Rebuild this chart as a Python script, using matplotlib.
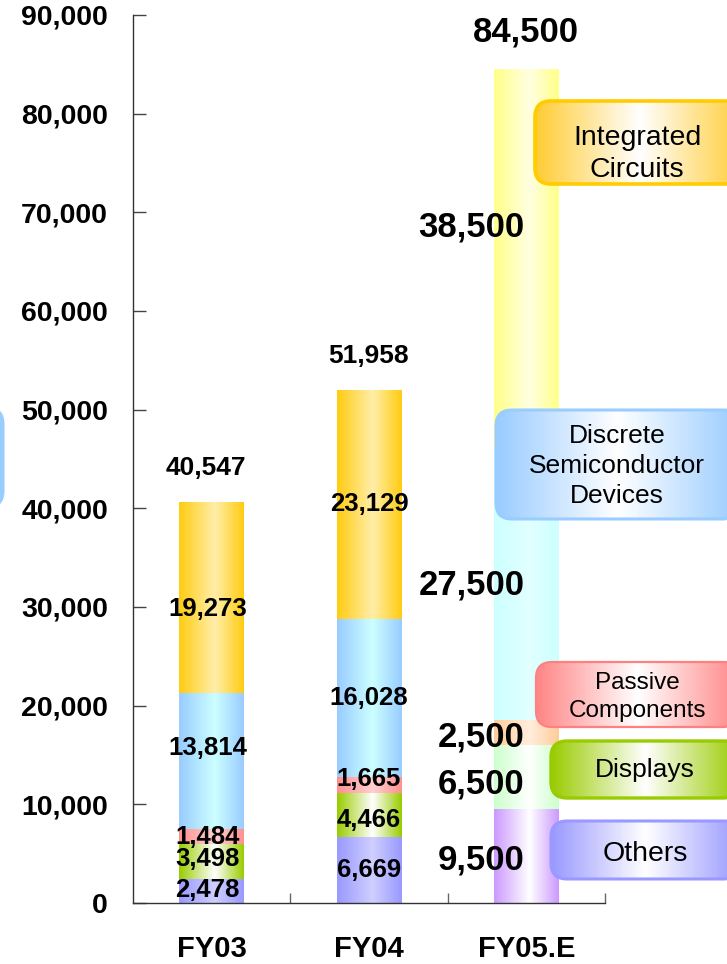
import numpy as np
import matplotlib
matplotlib.use("Agg")
import matplotlib.pyplot as plt
from matplotlib.colors import LinearSegmentedColormap
from matplotlib.patches import FancyBboxPatch

plt.rcParams['font.family'] = ['Liberation Sans', 'DejaVu Sans']

# ---- data -------------------------------------------------------------
years = ["FY03", "FY04", "FY05.E"]
segments = ["Others", "Displays", "Passive Components",
            "Discrete Semiconductor Devices", "Integrated Circuits"]
others = [2478, 6669, 9500]
displays = [3498, 4466, 6500]
passive = [1484, 1665, 2500]
discrete = [13814, 16028, 27500]
integrated = [19273, 23129, 38500]
totals = [40547, 51958, 84500]
y_ticks = [0, 10000, 20000, 30000, 40000, 50000, 60000, 70000, 80000, 90000]

series = [others, displays, passive, discrete, integrated]

# ---- styling ----------------------------------------------------------
# (edge colour, centre colour) for actual years and for the estimate year
palette = {
    "Others": (("#9999FF", "#CFCFFF"), ("#CC99FF", "#FFFFFF")),
    "Displays": (("#99CC00", "#FFFFFF"), ("#CCFFCC", "#FFFFFF")),
    "Passive Components": (("#FF8F8F", "#FFD0D0"), ("#FFCC99", "#FFEEDD")),
    "Discrete Semiconductor Devices": (("#99CCFF", "#CCFFFF"), ("#CCFFFF", "#E2FFFF")),
    "Integrated Circuits": (("#FFCC11", "#FFEEAA"), ("#FFFF88", "#FFFFE2")),
}

# small vertical nudges for a few value labels (data units)
nudge = {(0, 0): 100, (0, 1): 200, (0, 3): 1300, (0, 4): -1100,
         (1, 1): -500, (1, 2): 600,
         (2, 0): -400, (2, 1): -700, (2, 2): -400, (2, 4): 3300}


def hgrad(edge, mid, peak=0.55):
    return LinearSegmentedColormap.from_list("g", [(0, edge), (peak, mid), (1, edge)])


GRAD = np.linspace(0, 1, 256)[None, :]

fig = plt.figure(figsize=(7.27, 9.64), dpi=100)
ax = fig.add_axes([0.1829, 0.0633, 0.6493, 0.9212])

x = np.arange(len(years))
width = 0.41
bottom = np.zeros(len(years))
for s_idx, (name, vals) in enumerate(zip(segments, series)):
    bars = ax.bar(x, vals, width, bottom=bottom, facecolor="none",
                  edgecolor="none", zorder=2)
    for i, b in enumerate(bars):
        edge, mid = palette[name][1 if i == 2 else 0]
        ax.imshow(GRAD, cmap=hgrad(edge, mid), aspect="auto", origin="lower",
                  interpolation="bicubic", zorder=2,
                  extent=(b.get_x(), b.get_x() + b.get_width(),
                          b.get_y(), b.get_y() + b.get_height()))
        ymid = b.get_y() + b.get_height() / 2 + nudge.get((i, s_idx), 0)
        if i == 2:
            ax.text(1.99, ymid, f"{vals[i]:,}", ha="right", va="center",
                    fontsize=25, fontweight="bold", zorder=4)
        else:
            xoff = -0.025 if i == 0 else 0.0
            ax.text(x[i] + xoff, ymid, f"{vals[i]:,}", ha="center", va="center",
                    fontsize=18.5, fontweight="bold", zorder=4)
    bottom += np.array(vals)

for i, t in enumerate(totals):
    big = i == 2
    ax.annotate(f"{t:,}", (x[i], bottom[i]),
                xytext=(0 if big else (-4 if i == 0 else 0), 27 if big else 25),
                textcoords="offset points", ha="center", va="center",
                fontsize=25 if big else 19, fontweight="bold", zorder=4)

ax.set_xlim(-0.5, 2.5)
ax.set_ylim(0, 90000)
ax.set_yticks(y_ticks)
ax.set_yticklabels([f"{v:,}" for v in y_ticks], fontsize=20.5, fontweight="bold")
ax.tick_params(axis="y", direction="in", length=9, width=1, pad=18, color="#444444")

ax.set_xticks([0.5, 1.5, 2.5])
ax.set_xticklabels([])
ax.tick_params(axis="x", which="major", direction="in", length=7, width=1, color="#666666")
ax.set_xticks(x, minor=True)
ax.set_xticklabels(years, minor=True, fontsize=21, fontweight="bold")
ax.tick_params(axis="x", which="minor", length=0, pad=23)

for side in ("top", "right"):
    ax.spines[side].set_visible(False)
for side in ("left", "bottom"):
    ax.spines[side].set_color("#333333")
    ax.spines[side].set_linewidth(1.0)

# ---- category boxes (pixel coordinates on a full-figure overlay) -------
ov = fig.add_axes([0, 0, 1, 1], zorder=5)
ov.axis("off")

boxes = [
    # label, left, top, bottom, right, fill edge, border, lw, fontsize, text x, text y
    ("Integrated\nCircuits", 535, 101, 184, 745, "#FFCC33", "#FFCC00", 2.6, 20.5, 637, 154),
    ("Discrete\nSemiconductor\nDevices", 496, 410, 519, 740, "#99CCFF", "#99CCFF", 2.2, 19, 617, 466),
    ("Passive\nComponents", 536, 662, 727, 740, "#FF8585", "#FF8080", 1.6, 17.5, 637, 697),
    ("Displays", 551, 741, 798, 740, "#99CC00", "#99CC00", 2.4, 19, 645, 770),
    ("Others", 551, 821, 879, 740, "#9999FF", "#9999FF", 2.2, 20.5, 645, 854),
    ("", -240, 408, 507, 3, "#99CCFF", "#99CCFF", 2.2, 19, -100, 460),
]
for label, x0, y0, y1, x1, fill, border, lw, fs, tx, ty in boxes:
    patch = FancyBboxPatch((x0, y0), x1 - x0, y1 - y0,
                           boxstyle="round,pad=0,rounding_size=16",
                           facecolor="none", edgecolor=border, linewidth=lw, zorder=3)
    ov.add_patch(patch)
    im = ov.imshow(GRAD, cmap=hgrad(fill, "#FFFFFF", 0.5), aspect="auto",
                   interpolation="bicubic", extent=(x0, x1, y1, y0), zorder=2)
    im.set_clip_path(patch)
    if label:
        ov.text(tx, ty, label, ha="center", va="center", fontsize=fs,
                linespacing=1.32, zorder=4)

ov.set_xlim(0, 727)
ov.set_ylim(964, 0)

fig.savefig("out.png", dpi=100)
